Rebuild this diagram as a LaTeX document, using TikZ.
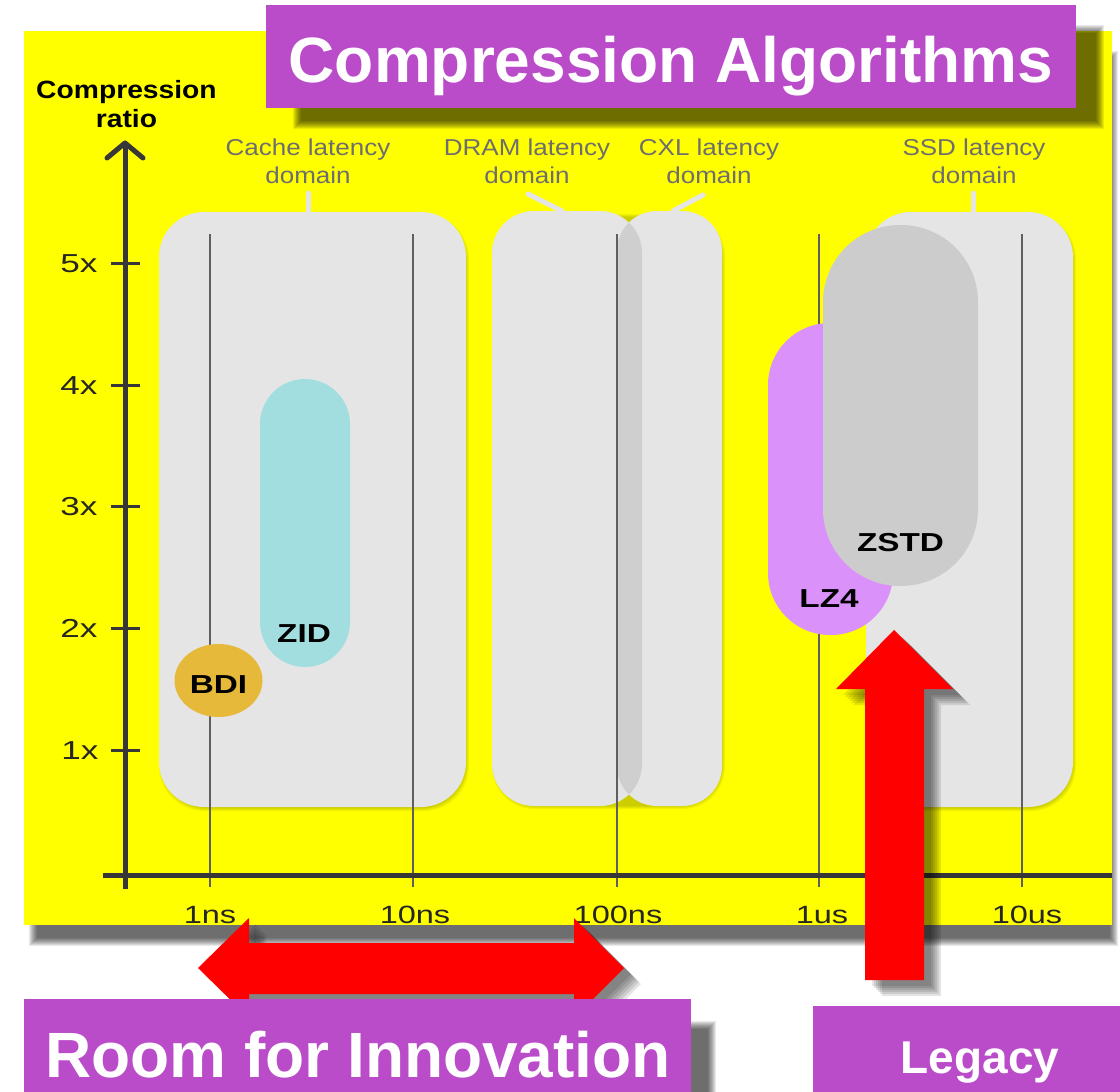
\documentclass[tikz,border=0pt]{standalone}
\usepackage{fontspec}
\setmainfont{Liberation Sans}

\definecolor{chartyellow}{RGB}{255,255,0}
\definecolor{bannerpurple}{RGB}{186,76,202}
\definecolor{domgray}{RGB}{229,229,229}
\definecolor{overlapgray}{RGB}{207,207,207}
\definecolor{zstdgray}{RGB}{204,204,204}
\definecolor{lzviolet}{RGB}{218,146,250}
\definecolor{zidcyan}{RGB}{162,222,224}
\definecolor{bdiorange}{RGB}{230,185,58}
\definecolor{gridc}{RGB}{95,95,95}
\definecolor{axisc}{RGB}{55,55,55}
\definecolor{domtext}{RGB}{110,110,110}
\definecolor{arrowred}{RGB}{255,0,0}

% soft (layered) shadow of a rectangle: x1 y1 x2 y2 radius layers opacity
\newcommand\softshade[7]{%
  \foreach \k in {0,...,#6}{%
    \fill[black,opacity=#7,rounded corners=#5] ({#1+\k},{#2+\k}) rectangle ({#3-\k},{#4-\k});
  }%
}

\tikzset{
  dombox/.style={fill=domgray},
  stubline/.style={draw=domgray, line width=5pt, line cap=round},
  gridline/.style={draw=gridc, line width=2pt},
  axisline/.style={draw=axisc, line width=5pt},
  tickline/.style={draw=axisc, line width=3pt},
  domlabel/.style={text=domtext, font=\fontsize{23}{26}\selectfont, inner sep=0pt, anchor=base, xscale=1.13},
  ylab/.style={text=black!85, font=\fontsize{26}{28}\selectfont, inner sep=0pt, anchor=base, xscale=1.35},
  xlab/.style={text=black!85, font=\fontsize{25}{28}\selectfont, inner sep=0pt, anchor=base, xscale=1.3},
  axistitle/.style={text=black, font=\bfseries\fontsize{25}{28}\selectfont, inner sep=0pt, anchor=base, xscale=1.13},
  algolabel/.style={text=black, font=\bfseries\fontsize{26}{28}\selectfont, inner sep=0pt, anchor=base, xscale=1.28},
  bannertext/.style={text=white, font=\bfseries\fontsize{64}{70}\selectfont, inner sep=0pt, anchor=base},
  legacytext/.style={text=white, font=\bfseries\fontsize{46}{50}\selectfont, inner sep=0pt, anchor=base},
  redarrow/.style={fill=arrowred},
}

\begin{document}
\begin{tikzpicture}[x=1pt,y=-1pt]
\useasboundingbox (0,0) rectangle (1120,1092);
\fill[white] (0,0) rectangle (1120,1092);

% chart panel with its shadow
\softshade{29}{51}{1118}{946}{0pt}{8}{0.085}
\fill[chartyellow] (24,31) rectangle (1112,925);

% latency domains
\softshade{159}{214}{469}{811}{45pt}{3}{0.05}
\softshade{492}{214}{725}{809}{42pt}{3}{0.05}
\softshade{866}{214}{1076}{811}{45pt}{3}{0.05}
\fill[dombox, rounded corners=45pt] (159,212) rectangle (466,807);
\fill[dombox, rounded corners=42pt] (492,211) rectangle (642,806);
\fill[dombox, rounded corners=40pt] (617,211) rectangle (722,806);
\begin{scope}
  \clip[rounded corners=42pt] (492,211) rectangle (642,806);
  \fill[overlapgray, rounded corners=40pt] (617,211) rectangle (722,806);
\end{scope}
\fill[dombox, rounded corners=45pt] (866,212) rectangle (1073,807);

% pointers from the domain captions
\draw[stubline] (308,193) -- (308,212);
\draw[stubline] (528,194) -- (562,211);
\draw[stubline] (703,195) -- (673,211);
\draw[stubline] (973,193) -- (973,212);

% latency grid lines
\foreach \gx in {210,413,617,819,1022}
  \draw[gridline] (\gx,234) -- (\gx,887);

% axes
\draw[axisline] (125,144) -- (125,889);
\draw[axisline] (103,875) -- (1112,875);
\draw[axisline, line cap=round, line join=round] (107,158) -- (125,143) -- (143,158);
\foreach \ty in {263,385,506,628,750}
  \draw[tickline] (111,\ty) -- (140,\ty);

% algorithms
\fill[zidcyan, rounded corners=45pt] (260,379) rectangle (350,667);
\fill[bdiorange] (218.5,680.5) ellipse [x radius=44, y radius=36.5];
\fill[lzviolet, rounded corners=62pt] (768,323) rectangle (893,635);
\fill[zstdgray, rounded corners=77pt] (823,225) rectangle (978,586);

\node[algolabel] (zid) at (304,642) {ZID};
\node[algolabel] (bdi) at (218.5,693) {BDI};
\node[algolabel] (lz4) at (829,607) {LZ4};
\node[algolabel] (zstd) at (900.5,551) {ZSTD};

% axis captions
\node[axistitle] (ytitleA) at (126.5,98) {Compression};
\node[axistitle] (ytitleB) at (126.5,127) {ratio};

\node[ylab] (r5) at (79,272) {5x};
\node[ylab] (r4) at (79,394) {4x};
\node[ylab] (r3) at (79,515) {3x};
\node[ylab] (r2) at (79,637) {2x};
\node[ylab] (r1) at (80,759) {1x};

\node[xlab] (t1ns) at (210,923) {1ns};
\node[xlab] (t10ns) at (415,923) {10ns};
\node[xlab] (t100ns) at (618,923) {100ns};
\node[xlab] (t1us) at (822,923) {1us};
\node[xlab] (t10us) at (1027,923) {10us};

% domain captions
\node[domlabel] (cacheA) at (308,155) {Cache latency};
\node[domlabel] (cacheB) at (308,183) {domain};
\node[domlabel] (dramA) at (527,155) {DRAM latency};
\node[domlabel] (dramB) at (527,183) {domain};
\node[domlabel] (cxlA) at (709,155) {CXL latency};
\node[domlabel] (cxlB) at (709,183) {domain};
\node[domlabel] (ssdA) at (974,155) {SSD latency};
\node[domlabel] (ssdB) at (974,183) {domain};

% title banner
\softshade{293}{25}{1104}{129}{0pt}{8}{0.085}
\fill[bannerpurple] (266,5) rectangle (1076,108);
\node[bannertext] (title) at (671,82) {Compression Algorithms};

% red arrows with their shadows
\def\harrowpath{(198,968) -- (249,918) -- (249,943) -- (574,943) -- (574,918) -- (624,968) -- (574,1018) -- (574,994) -- (249,994) -- (249,1018) -- cycle}
\def\varrowpath{(894,630) -- (953,689) -- (924,689) -- (924,980) -- (865,980) -- (865,689) -- (836,689) -- cycle}
\foreach \sx/\sy in {7/6,9/8,11/10,13/12,15/14,17/16}{
  \fill[black,opacity=0.1,shift={(\sx,\sy)}] \harrowpath;
  \fill[black,opacity=0.1,shift={(\sx,\sy)}] \varrowpath;
}
\fill[redarrow] \harrowpath;
\fill[redarrow] \varrowpath;

% bottom banners
\softshade{48}{1021}{716}{1125}{0pt}{8}{0.085}
\fill[bannerpurple] (24,999) rectangle (691,1100);
\node[bannertext] (room) at (358,1077) {Room for Innovation};
\fill[bannerpurple] (813,1006) rectangle (1125,1100);
\node[legacytext] (legacy) at (980,1073) {Legacy};
\end{tikzpicture}
\end{document}
